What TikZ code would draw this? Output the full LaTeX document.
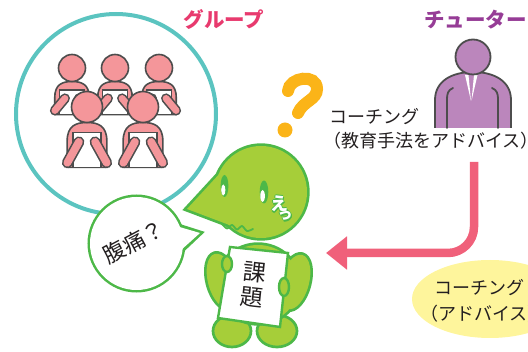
\documentclass[tikz,border=0pt]{standalone}
\usepackage{fontspec}
\setmainfont{Noto Sans CJK JP}
\usetikzlibrary{arrows.meta,shapes.geometric}

\definecolor{ringteal}{RGB}{91,196,192}
\definecolor{grouppink}{RGB}{232,58,110}
\definecolor{studentpink}{RGB}{244,150,154}
\definecolor{inkgray}{RGB}{77,77,77}
\definecolor{tutorpurple}{RGB}{187,134,188}
\definecolor{tutortext}{RGB}{150,60,150}
\definecolor{qorange}{RGB}{251,180,24}
\definecolor{arrowred}{RGB}{240,96,122}
\definecolor{noteyellow}{RGB}{254,245,156}
\definecolor{charfill}{RGB}{166,206,57}
\definecolor{charline}{RGB}{77,184,72}
\definecolor{textblack}{RGB}{35,31,32}

\tikzset{
  headline/.style={font=\bfseries\fontsize{20.5}{24}\selectfont, inner sep=0pt},
  bodytext/.style={font=\fontsize{18}{21}\selectfont, text=textblack, inner sep=0pt},
  signtext/.style={font=\fontsize{23}{26}\selectfont, text=textblack, inner sep=0pt, rotate=-6},
  gline/.style={draw=inkgray, line width=1.6pt},
  eface/.style={font=\bfseries\fontsize{18}{20}\selectfont, inner sep=0pt},
  tface/.style={font=\bfseries\fontsize{15}{17}\selectfont, inner sep=0pt},
}

% one seated student: head centre (#1,#2), head radius #3, body depth #4 (in radii)
\newcommand\drawstudent[4]{%
  \begin{scope}[shift={(#1,#2)}, x=#3pt, y=-#3pt]
    \filldraw[fill=studentpink, gline] (-1.28,#4) -- (-1.28,2.2)
      .. controls (-1.28,1.2) and (-0.7,1.0) .. (0,1.0)
      .. controls (0.7,1.0) and (1.28,1.2) .. (1.28,2.2) -- (1.28,#4) -- cycle;
    \filldraw[fill=white, gline] (-0.92,1.65) rectangle (0.92,#4);
    \foreach \s in {-1,1} {
      \draw[inkgray, line width={0.5*#3+3.2}, line cap=round] (\s*0.52,2.25) -- (\s*1.27,#4-0.3);
      \draw[studentpink, line width={0.5*#3}, line cap=round] (\s*0.52,2.25) -- (\s*1.27,#4-0.3);
    }
    \filldraw[fill=studentpink, gline] (0,0) circle[radius=1];
  \end{scope}}

% torso and arms of the green character (used once for the outline, once for the fill)
\newcommand\charbody[1]{%
  \path[#1] (258,284) ellipse[x radius=41, y radius=39];
  \path[#1, shift={(222,281)}, rotate=15] (0,0) ellipse[x radius=14, y radius=28];
  \path[#1, shift={(295,282)}, rotate=-15] (0,0) ellipse[x radius=14, y radius=28];
}

\begin{document}
\begin{tikzpicture}[x=1pt, y=-1pt]
\useasboundingbox (0,0) rectangle (528,352);

% group ring with the students
\draw[ringteal, line width=4pt] (116,114) circle[radius=100];
\drawstudent{72}{68}{13.5}{3.45}
\drawstudent{115}{68}{13.5}{3.45}
\drawstudent{159}{68}{13.5}{3.45}
\drawstudent{87}{107}{15.5}{3.9}
\drawstudent{143}{107}{15.5}{3.9}
\node[headline, text=grouppink] (grouplabel) at (224,20) {グループ};

% tutor
\node[headline, text=tutortext, anchor=west] (tutorlabel) at (424,20) {チューター};
\fill[tutorpurple] (435,128) -- (435,100) .. controls (435,81) and (452,72) .. (473,72)
  .. controls (494,72) and (511,81) .. (511,100) -- (511,128) -- cycle;
\draw[gline, line width=1.8pt] (435,128) -- (435,100) .. controls (435,81) and (452,72) .. (473,72)
  .. controls (494,72) and (511,81) .. (511,100) -- (511,128);
\fill[white] (465,75) -- (468.5,75) -- (471,101) -- cycle;
\fill[white] (474,75) -- (477.5,75) -- (471.5,101) -- cycle;
\draw[gline, line width=1.8pt, line cap=round] (453,88) .. controls (448,90) and (447,94) .. (447,99) -- (447,128);
\draw[gline, line width=1.8pt, line cap=round] (492,88) .. controls (497,90) and (498,94) .. (498,99) -- (498,128);
\filldraw[fill=tutorpurple, gline, line width=1.8pt] (473,57) circle[radius=17.5];

% question mark
\draw[qorange, line width=12pt, line cap=round] (288,91) .. controls (289,77) and (317,73) .. (317,89)
  .. controls (317,100) and (303,101) .. (298,113);
\fill[qorange] (285,130) circle[radius=7.5];

% coaching note
\node[bodytext, anchor=west] (coachtop1) at (329,117) {コーチング};
\node[bodytext, anchor=west] (coachtop2) at (323,141) {（教育手法をアドバイス）};

% advice ellipse
\node[ellipse, fill=noteyellow, minimum width=156pt, minimum height=78pt, inner sep=0pt] (advicebubble) at (490,299) {};
\node[bodytext, anchor=west] (advice1) at (434,288) {コーチング};
\node[bodytext, anchor=west] (advice2) at (420,314) {（アドバイス）};

% arrow from the tutor to the character
\coordinate (arrowstart) at (474,162);
\coordinate (arrowtip) at (326,253);
\draw[arrowred, line width=8.5pt, rounded corners=26pt, -{Triangle[length=21pt,width=32pt]}]
  (arrowstart) |- (arrowtip);

% green character: legs
\filldraw[fill=charfill, draw=charline, line width=2.7pt] (232,331) ellipse[x radius=19, y radius=16];
\filldraw[fill=charfill, draw=charline, line width=2.7pt] (277,331) ellipse[x radius=20, y radius=16];
% torso and arms
\charbody{draw=charline, line width=5.4pt}
\charbody{fill=charfill}
% sign
\filldraw[fill=white, draw=charline, line width=2.4pt] (230,247) -- (288,253) -- (280,327) -- (218,318) -- cycle;
\node[signtext] (signa) at (255,272) {課};
\node[signtext] (signb) at (252,298) {題};
% hands on the sign
\filldraw[fill=charfill, draw=charline, line width=2.4pt] (227,264) ellipse[x radius=5, y radius=8];
\filldraw[fill=charfill, draw=charline, line width=2.4pt] (284,287) ellipse[x radius=5, y radius=9];
% head with beak
\path[draw=charline, line width=5.4pt] (261,192) circle[radius=46];
\path[draw=charline, line width=5.4pt] (222,171) -- (187,209) -- (232,226) -- cycle;
\fill[charfill] (261,192) circle[radius=46];
\fill[charfill] (222,171) -- (187,209) -- (232,226) -- cycle;
% eyes
\fill[charline] (224.5,186) ellipse[x radius=3.9, y radius=11];
\fill[white] (223.3,190) ellipse[x radius=2.1, y radius=5.5];
\fill[charline] (264,192) ellipse[x radius=4.3, y radius=11.5];
\fill[white] (262.6,196) ellipse[x radius=2.3, y radius=6];
% wavy mouth
\draw[charline, line width=1.8pt, line cap=round, line join=round] plot[smooth]
  coordinates {(222,224) (227,228.5) (232,225) (237,229.5) (242,226) (247,231) (253,229)};
% startled exclamation, white with a green rim
\foreach \dx/\dy [count=\i] in {1.4/0.6, -0.8/0, 0.6/1.4, 0/-0.8, 1.2/1.2} {
  \node[eface, text=charline] (eshadow\i) at (279+\dx,204+\dy) {え};
  \node[tface, text=charline] (tshadow\i) at (285+\dx,216+\dy) {っ};
}
\node[eface, text=white] (eword) at (279,204) {え};
\node[tface, text=white] (tword) at (285,216) {っ};

% speech bubble
\path[draw=charline, line width=5pt] (136.5,243.5) circle[radius=46.5];
\path[draw=charline, line width=5pt] (178,226) -- (200,233) -- (182,250) -- cycle;
\fill[white] (136.5,243.5) circle[radius=46.5];
\fill[white] (176,226) -- (200,233) -- (180,251) -- cycle;
\node[font=\fontsize{22}{24}\selectfont, text=textblack, inner sep=0pt, rotate=28] (bubbletext) at (134,242) {腹痛？};
\end{tikzpicture}
\end{document}
